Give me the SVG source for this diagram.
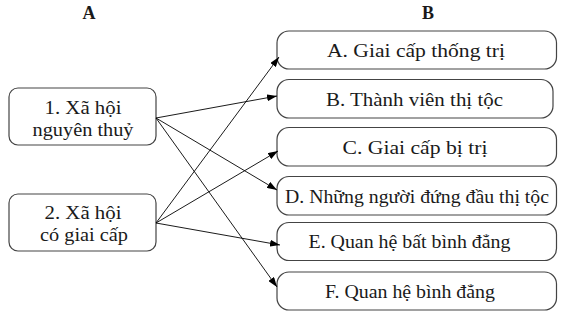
<svg xmlns="http://www.w3.org/2000/svg" width="577" height="322" viewBox="0 0 577 322">
<style>
  .bg { fill: #ffffff; }
  .box { fill: #ffffff; stroke: #444444; stroke-width: 1.2; }
  .t { font-family: "Liberation Serif", "Times New Roman", serif; font-size: 19px; fill: #1a1a1a; text-anchor: middle; }
  .h { font-family: "Liberation Serif", "Times New Roman", serif; font-size: 18px; font-weight: bold; fill: #1a1a1a; text-anchor: middle; }
  .c { stroke: #000000; stroke-width: 0.9; fill: none; marker-end: url(#arr); }
</style>
<defs>
  <marker id="arr" markerUnits="userSpaceOnUse" markerWidth="10" markerHeight="7" refX="10" refY="3.5" orient="auto">
    <path d="M0,0 L10,3.5 L0,7 z" fill="#000000"/>
  </marker>
</defs>
<rect class="bg" x="0" y="0" width="577" height="322"/>
<g id="headers">
  <text class="h" x="89" y="19">A</text>
  <text class="h" x="428" y="19">B</text>
</g>
<g id="node-1">
  <rect class="box" x="9" y="88" width="147" height="57" rx="9" ry="9"/>
  <text class="t" x="83" y="114" textLength="77" lengthAdjust="spacingAndGlyphs">1. Xã hội</text>
  <text class="t" x="83" y="136" textLength="101" lengthAdjust="spacingAndGlyphs">nguyên thuỷ</text>
</g>
<g id="node-2">
  <rect class="box" x="9" y="194" width="147" height="57" rx="9" ry="9"/>
  <text class="t" x="83" y="219" textLength="77" lengthAdjust="spacingAndGlyphs">2. Xã hội</text>
  <text class="t" x="84" y="241" textLength="88" lengthAdjust="spacingAndGlyphs">có giai cấp</text>
</g>
<g id="node-A">
  <rect class="box" x="277" y="31" width="279.5" height="38" rx="12" ry="12"/>
  <text class="t" x="416" y="56.5" textLength="178" lengthAdjust="spacingAndGlyphs">A. Giai cấp thống trị</text>
</g>
<g id="node-B">
  <rect class="box" x="277" y="79.5" width="276" height="38.5" rx="12" ry="12"/>
  <text class="t" x="414.5" y="105.5" textLength="177" lengthAdjust="spacingAndGlyphs">B. Thành viên thị tộc</text>
</g>
<g id="node-C">
  <rect class="box" x="277" y="127.5" width="279.5" height="38.5" rx="12" ry="12"/>
  <text class="t" x="415" y="153.5" textLength="145" lengthAdjust="spacingAndGlyphs">C. Giai cấp bị trị</text>
</g>
<g id="node-D">
  <rect class="box" x="277" y="176.5" width="279.5" height="38.5" rx="12" ry="12"/>
  <text class="t" x="417" y="202.5" textLength="264" lengthAdjust="spacingAndGlyphs">D. Những người đứng đầu thị tộc</text>
</g>
<g id="node-E">
  <rect class="box" x="277" y="222.5" width="279.5" height="38" rx="12" ry="12"/>
  <text class="t" x="409.5" y="248" textLength="202" lengthAdjust="spacingAndGlyphs">E. Quan hệ bất bình đẳng</text>
</g>
<g id="node-F">
  <rect class="box" x="277" y="272" width="279.5" height="38" rx="12" ry="12"/>
  <text class="t" x="410" y="297.5" textLength="170" lengthAdjust="spacingAndGlyphs">F. Quan hệ bình đẳng</text>
</g>
<g id="connectors">
  <line class="c" x1="156" y1="118" x2="277" y2="96"/>
  <line class="c" x1="156" y1="118" x2="277" y2="190"/>
  <line class="c" x1="156" y1="118" x2="277" y2="287"/>
  <line class="c" x1="156" y1="223" x2="279" y2="57"/>
  <line class="c" x1="156" y1="223" x2="278" y2="151"/>
  <line class="c" x1="156" y1="223" x2="280" y2="245"/>
</g>
</svg>
